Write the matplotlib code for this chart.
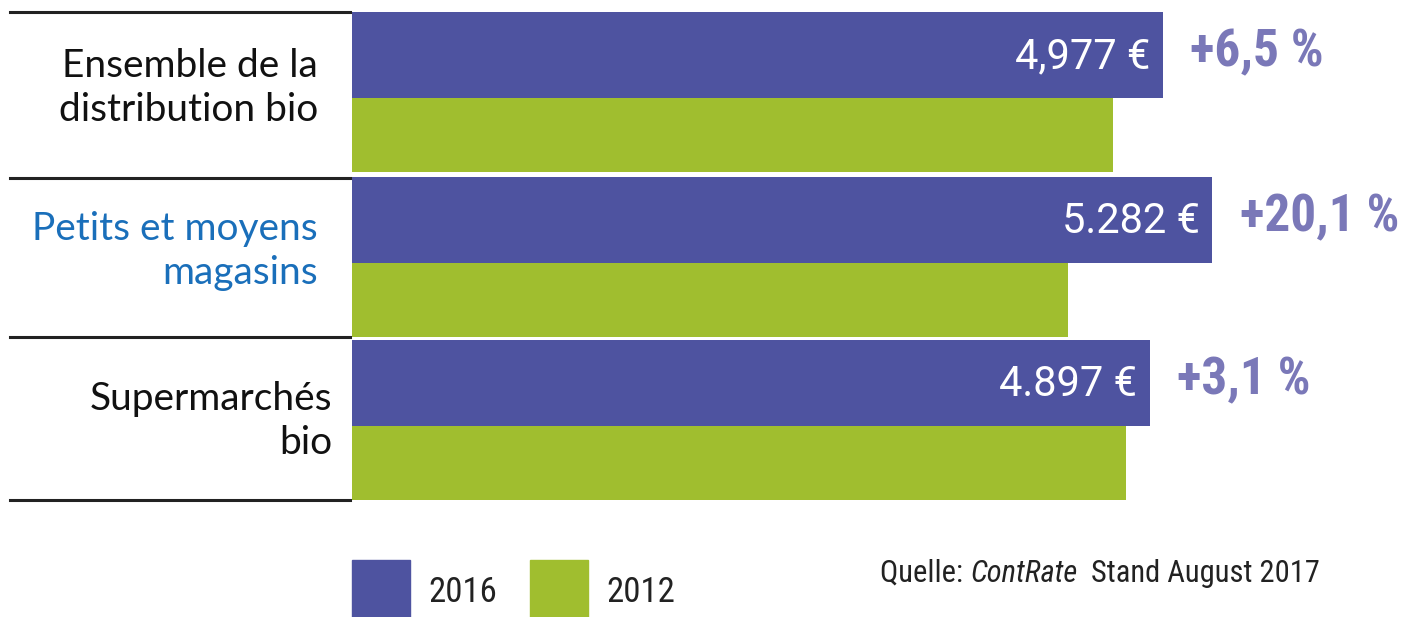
import matplotlib
matplotlib.use("Agg")
import matplotlib.pyplot as plt
from matplotlib.patches import Rectangle
from matplotlib import font_manager

categories = ["Ensemble de la\ndistribution bio", "Petits et moyens\nmagasins", "Supermarchés\nbio"]
label_colors = ["#111111", "#1a6fba", "#111111"]
values_2016 = [4977, 5282, 4897]
values_2012 = [4673, 4398, 4750]
value_labels = ["4,977 €", "5.282 €", "4.897 €"]
growth_labels = ["+6,5 %", "+20,1 %", "+3,1 %"]
years = ["2016", "2012"]
source_parts = [("Quelle: ", "normal"), ("ContRate", "italic"), ("  Stand August 2017", "normal")]

BLUE = "#4e53a0"
GREEN = "#a0be2f"
PCT = "#7a78b8"

installed = {f.name for f in font_manager.fontManager.ttflist}
COND = "Roboto Condensed" if "Roboto Condensed" in installed else "Roboto"
shrink = 0.88 if COND == "Roboto" else 1.0

W, H = 1409, 617
fig = plt.figure(figsize=(W / 100, H / 100), dpi=100)


def fx(px):
    return px / W


def fy(py):
    return 1 - py / H


# bar area: pixel rows 12..500, from x=352 to the right edge
ax = fig.add_axes([fx(352), fy(500), 1 - fx(352), (500 - 12) / H])
ax.set_xlim(0, 6489)
ax.set_ylim(500, 12)
ax.axis("off")

group_top = [12, 177, 340]
for i in range(len(categories)):
    top = group_top[i]
    ax.barh(top + 43, values_2016[i], height=86, color=BLUE, align="center")
    ax.barh(top + 86 + 37, values_2012[i], height=74, color=GREEN, align="center")
    ax.text(values_2016[i] - 75, top + 45, value_labels[i], color="white",
            fontsize=30, family="Roboto", ha="right", va="center")
    ax.text(values_2016[i] + 170, top + 40, growth_labels[i], color=PCT,
            fontsize=37 * shrink, family=COND, weight="bold",
            ha="left", va="center")

# separators and category labels on the left
for py in [12, 178, 337, 500]:
    fig.add_artist(plt.Line2D([fx(10), fx(350)], [fy(py), fy(py)],
                              color="#222222", lw=2.2))

label_right = [318, 318, 332]
label_mid = [88, 251, 421]
for i, cat in enumerate(categories):
    fig.text(fx(label_right[i]), fy(label_mid[i]), cat, color=label_colors[i],
             fontsize=28, family="Lato", ha="right", va="center",
             linespacing=1.25)

# legend
for x0, col, yr in [(352, BLUE, years[0]), (530, GREEN, years[1])]:
    fig.add_artist(Rectangle((fx(x0), 0), fx(58), fy(560), color=col,
                             transform=fig.transFigure))
    fig.text(fx(x0 + 76), fy(592), yr, fontsize=25 * shrink,
             family=COND, color="#222222", ha="left", va="center")

# source line, pieces placed one after the other
renderer = fig.canvas.get_renderer()
x = fx(880)
for txt, st in source_parts:
    t = fig.text(x, fy(573), txt, fontsize=22 * shrink,
                 family=COND, style=st, color="#222222", ha="left", va="center")
    bb = t.get_window_extent(renderer)
    x = fx(bb.x1)

fig.savefig("out.png", dpi=100, facecolor="white")
